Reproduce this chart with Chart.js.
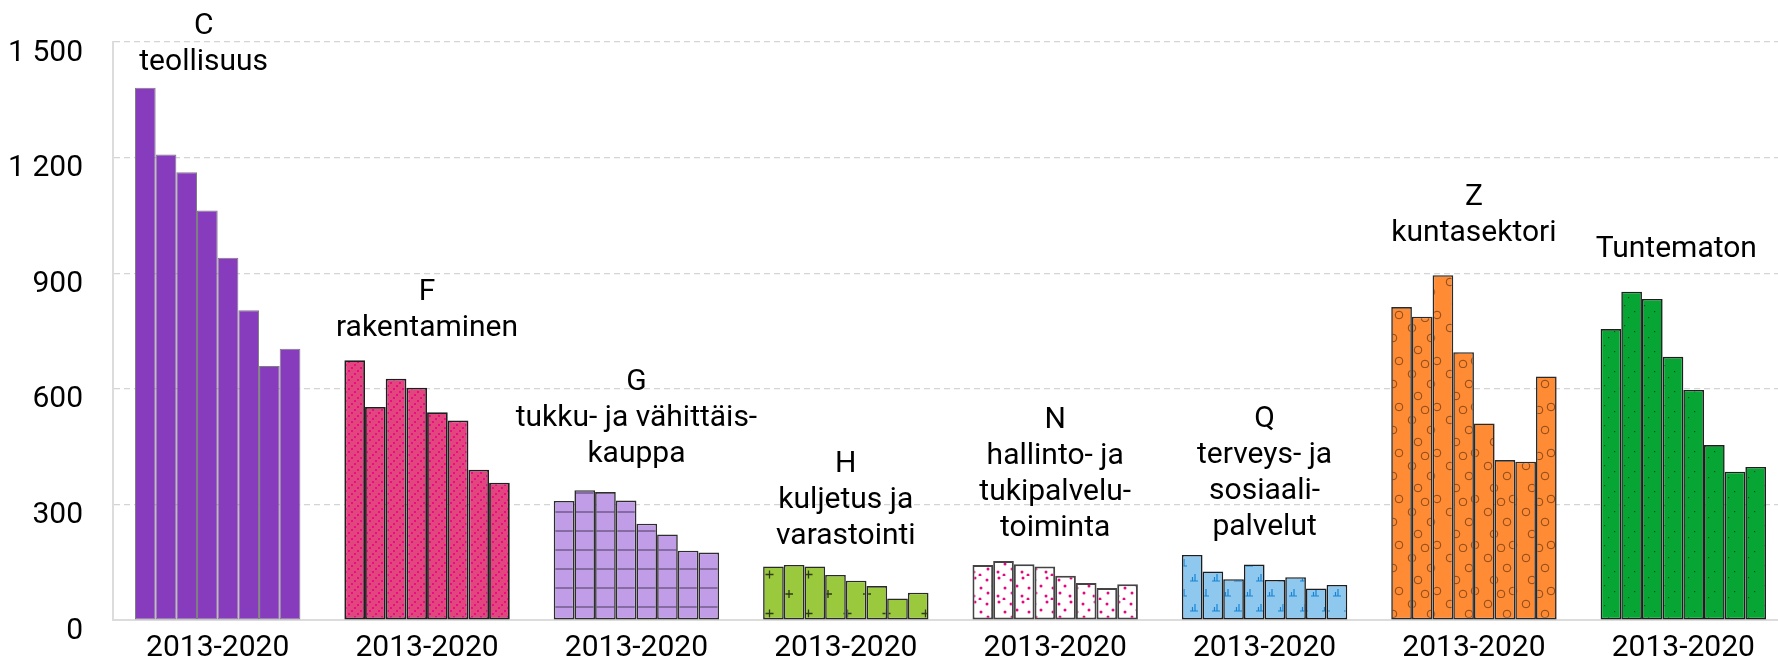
<!DOCTYPE html>
<html>
<head>
<meta charset="utf-8">
<script src="https://cdn.jsdelivr.net/npm/chart.js@4.4.1/dist/chart.umd.min.js"></script>
<style>
  html, body { margin: 0; padding: 0; background: #fff; }
  #wrap { width: 1778px; height: 658px; position: relative; }
</style>
</head>
<body>
<div id="wrap"><canvas id="chart"></canvas></div>
<script>
// ---------- data ----------
const years = ["2013", "2014", "2015", "2016", "2017", "2018", "2019", "2020"];
const groupCodes = ["C", "F", "G", "H", "N", "Q", "Z", "Tuntematon"];
const groupLabels = [
  ["C", "teollisuus"],
  ["F", "rakentaminen"],
  ["G", "tukku- ja vähittäis-", "kauppa"],
  ["H", "kuljetus ja", "varastointi"],
  ["N", "hallinto- ja", "tukipalvelu-", "toiminta"],
  ["Q", "terveys- ja", "sosiaali-", "palvelut"],
  ["Z", "kuntasektori"],
  ["Tuntematon"]
];
const xTickLabels = ["2013-2020", "2013-2020", "2013-2020", "2013-2020",
                     "2013-2020", "2013-2020", "2013-2020", "2013-2020"];
const yTicks = [0, 300, 600, 900, 1200, 1500];

// values per group, years 2013..2020
const valuesC = [1381, 1208, 1162, 1063, 940, 804, 659, 704];
const valuesF = [674, 553, 626, 603, 539, 518, 390, 356];
const valuesG = [309, 337, 332, 310, 250, 222, 180, 175];
const valuesH = [139, 143, 139, 117, 102, 88, 56, 71];
const valuesN = [143, 153, 145, 139, 115, 96, 83, 93];
const valuesQ = [169, 126, 106, 144, 104, 111, 82, 91];
const valuesZ = [812, 787, 895, 695, 510, 415, 411, 632];
const valuesT = [755, 852, 833, 683, 597, 454, 385, 397];

const groupValues = [valuesC, valuesF, valuesG, valuesH, valuesN, valuesQ, valuesZ, valuesT];

// label placement: gap (px) from highest bar top to centre of last line, and x nudge
const labelGap = [25, 32, 36, 28, 33, 27, 42, 42];
const labelNudge = [-14, 0, 0, 0, 0, 0, 0, -7];
const LINE_H = 36;
const FONT_SIZE = 30;
const PLOT_OVERHANG = 10; // plot area runs a little past the right edge

// ---------- fills ----------
function tile(w, h, draw) {
  const c = document.createElement("canvas");
  c.width = w; c.height = h;
  const g = c.getContext("2d");
  draw(g, w, h);
  return g.createPattern(c, "repeat");
}

const fillC = "#873cbd";

const fillF = tile(9, 9, (g, w, h) => {
  g.fillStyle = "#e1467f";
  g.fillRect(0, 0, w, h);
  g.fillStyle = "#ee0a84";
  [[0, 7], [3, 4], [6, 1]].forEach(([x, y]) => g.fillRect(x, y, 2, 2));
});

const fillG = tile(20, 19.3, (g, w, h) => {
  g.fillStyle = "#c29de7";
  g.fillRect(0, 0, w, h);
  g.strokeStyle = "rgba(70,55,85,0.75)";
  g.lineWidth = 1.3;
  g.beginPath(); g.moveTo(0, 18); g.lineTo(w, 18); g.stroke();
});

const fillH = tile(39, 39, (g, w, h) => {
  g.fillStyle = "#9bc93e";
  g.fillRect(0, 0, w, h);
  g.strokeStyle = "#2f3a18";
  g.lineWidth = 1.3;
  [[9, 9], [28.5, 28.5]].forEach(([x, y]) => {
    g.beginPath();
    g.moveTo(x - 4, y); g.lineTo(x + 4, y);
    g.moveTo(x, y - 4); g.lineTo(x, y + 4);
    g.stroke();
  });
});

const fillN = tile(24, 24, (g, w, h) => {
  g.fillStyle = "#ffffff";
  g.fillRect(0, 0, w, h);
  g.fillStyle = "#e5077f";
  [[3, 4], [15, 2], [9, 10], [21, 12], [4, 17], [14, 20], [20, 23]].forEach(([x, y]) => {
    g.beginPath(); g.arc(x, y, 1.5, 0, Math.PI * 2); g.fill();
  });
});

const fillQ = tile(22, 30, (g, w, h) => {
  g.fillStyle = "#8fc8ee";
  g.fillRect(0, 0, w, h);
  g.strokeStyle = "#1784d4";
  g.lineWidth = 1.2;
  [[6, 11], [17, 26]].forEach(([x, y]) => {
    g.beginPath();
    g.moveTo(x - 4, y); g.lineTo(x + 4, y);
    g.moveTo(x + 1, y); g.lineTo(x + 1, y - 7);
    g.moveTo(x - 1.5, y); g.lineTo(x - 1.5, y - 4);
    g.stroke();
  });
});

const fillZ = tile(38, 46, (g, w, h) => {
  g.fillStyle = "#ff8c35";
  g.fillRect(0, 0, w, h);
  g.strokeStyle = "rgba(110,55,15,0.8)";
  g.lineWidth = 1;
  [[6, 6], [25, 16], [12, 28], [31, 39], [19, 42]].forEach(([x, y]) => {
    g.beginPath(); g.arc(x, y, 3.8, 0, Math.PI * 2); g.stroke();
  });
});

const fillT = tile(20, 20, (g, w, h) => {
  g.fillStyle = "#07a534";
  g.fillRect(0, 0, w, h);
  g.fillStyle = "#10521f";
  [[4, 5], [14, 11], [8, 17]].forEach(([x, y]) => {
    g.fillRect(x, y, 1.2, 1.2);
  });
});

const groupFills = [fillC, fillF, fillG, fillH, fillN, fillQ, fillZ, fillT];
const groupBorders = ["#7e7e7e", "#1e1e1e", "#2e2e2e", "#2a2a2a", "#444444", "#1e1e1e", "#2a2a2a", "#1e1e1e"];
const groupBorderWidths = [1, 1.8, 1.6, 1.6, 2, 1.6, 1.6, 1.6];

// ---------- group name labels above bars ----------
const groupLabelPlugin = {
  id: "groupLabels",
  afterDatasetsDraw(chart) {
    const ctx = chart.ctx;
    const xs = chart.scales.x;
    ctx.save();
    ctx.font = FONT_SIZE + "px Roboto";
    ctx.fillStyle = "#000";
    ctx.textAlign = "center";
    ctx.textBaseline = "middle";
    groupLabels.forEach((lines, i) => {
      let top = Infinity;
      chart.data.datasets.forEach((ds, d) => {
        const el = chart.getDatasetMeta(d).data[i];
        if (el && el.y < top) top = el.y;
      });
      const x = xs.getPixelForValue(i) + labelNudge[i];
      let y = top - labelGap[i];
      for (let k = lines.length - 1; k >= 0; k--) {
        ctx.fillText(lines[k], x, y);
        y -= LINE_H;
      }
    });
    ctx.restore();
  }
};

// stretch the category axis a bit past the canvas edge
const overhangPlugin = {
  id: "overhang",
  afterLayout(chart) {
    const xs = chart.scales.x;
    xs.right += PLOT_OVERHANG;
    xs.width += PLOT_OVERHANG;
    xs.configure();
    chart.chartArea.right += PLOT_OVERHANG;
    chart.chartArea.width += PLOT_OVERHANG;
  }
};

function formatThousands(v) {
  return String(v).replace(/\B(?=(\d{3})+(?!\d))/g, " ");
}

// ---------- chart ----------
const datasets = years.map((yr, yi) => ({
  label: yr,
  data: groupValues.map(vals => vals[yi]),
  backgroundColor: groupFills,
  borderColor: groupBorders,
  borderWidth: groupBorderWidths,
  borderSkipped: false,
  barPercentage: 1,
  categoryPercentage: 0.79
}));

new Chart(document.getElementById("chart"), {
  type: "bar",
  data: { labels: xTickLabels, datasets },
  options: {
    responsive: true,
    maintainAspectRatio: false,
    animation: false,
    layout: { padding: { top: 42, right: 0, bottom: 0, left: 0 } },
    plugins: {
      legend: { display: false },
      tooltip: { enabled: false }
    },
    scales: {
      x: {
        grid: { display: false, drawTicks: false },
        border: { display: true, color: "#dcdcdc", width: 2 },
        afterFit(scale) { scale.height = 38; },
        ticks: {
          color: "#000",
          font: { family: "Roboto", size: FONT_SIZE },
          padding: 10,
          maxRotation: 0,
          autoSkip: false
        }
      },
      y: {
        min: 0,
        max: 1500,
        afterBuildTicks(scale) {
          scale.ticks = yTicks.map(v => ({ value: v }));
        },
        afterFit(scale) {
          scale.width = 113;
          scale.paddingTop = 0;
          scale.paddingBottom = 0;
        },
        grid: {
          color: "#d4d4d4",
          lineWidth: 1.2,
          drawTicks: false
        },
        border: { display: true, color: "#dcdcdc", width: 2, dash: [6, 4] },
        ticks: {
          color: "#000",
          font: { family: "Roboto", size: FONT_SIZE },
          padding: 30,
          labelOffset: 11,
          callback: v => formatThousands(v)
        }
      }
    }
  },
  plugins: [overhangPlugin, groupLabelPlugin]
});
</script>
</body>
</html>
